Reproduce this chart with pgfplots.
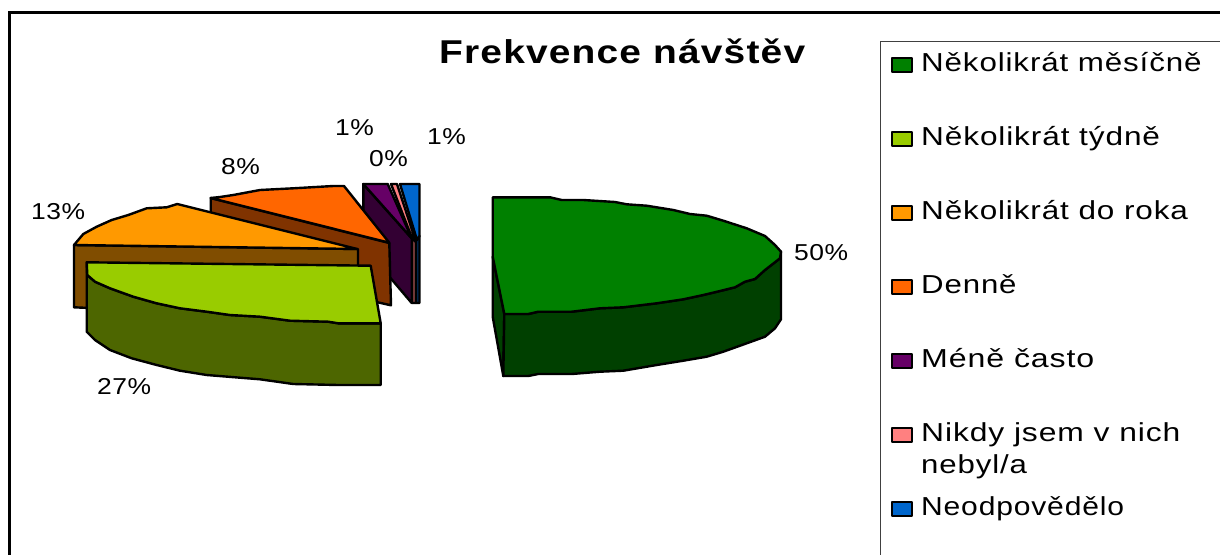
\documentclass[border=0pt]{standalone}
\usepackage{pgfplots}
\pgfplotsset{compat=1.18}
\usepackage{fontspec}
\setmainfont{Liberation Sans}
\definecolor{gT}{HTML}{008000}\definecolor{gS}{HTML}{004000}
\definecolor{lT}{HTML}{99CC00}\definecolor{lS}{HTML}{4D6600}
\definecolor{oT}{HTML}{FF9900}\definecolor{oS}{HTML}{804D00}
\definecolor{dT}{HTML}{FF6600}\definecolor{dS}{HTML}{803300}
\definecolor{pT}{HTML}{660066}\definecolor{pS}{HTML}{330033}
\definecolor{rT}{HTML}{FF8080}\definecolor{rS}{HTML}{804040}
\definecolor{bT}{HTML}{0066CC}\definecolor{bS}{HTML}{003366}
\newcommand{\lgd}[3][1.2]{\node[anchor=base west,inner sep=0pt,font=\fontsize{26}{30}\selectfont] at (axis cs:921,#2) {\scalebox{#1}[1]{\addfontfeature{LetterSpace=2.8}#3}};}
\newcommand{\pc}[3]{\node[anchor=base west,inner sep=0pt,font=\fontsize{23}{28}\selectfont] at (axis cs:#1,#2) {\scalebox{1.15}[1]{\addfontfeature{LetterSpace=2}#3}};}
\begin{document}
\begin{tikzpicture}
\path[use as bounding box] (0,0) rectangle (1220pt,554pt);
\begin{axis}[
  scale only axis, width=1220pt, height=554pt,
  xmin=0, xmax=1220, ymin=0, ymax=554, y dir=reverse,
  hide axis, clip=true,
  every axis plot/.append style={draw=black, line width=2.4pt, line join=round},
]
% frame
\addplot[draw=black, line width=3pt, line join=miter] coordinates {(9.5,560) (9.5,12) (1230,12)};
\addplot[draw=black!75, line width=1pt, line join=miter] coordinates {(880.5,560) (880.5,41.5) (1230,41.5)};
% Neodpovedelo
\addplot[fill=bS] coordinates {(416,240) (419.5,236) (419.5,303) (416,303)} -- cycle;
\addplot[fill=bT] coordinates {(400,184) (419.5,184) (419.5,236) (417,240)} -- cycle;
% Nikdy
\addplot[fill=rS] coordinates {(412,238) (416,242) (416,303) (412,303)} -- cycle;
\addplot[fill=rT] coordinates {(391,184) (397,184) (416,242) (412,238)} -- cycle;
% Mene casto
\addplot[fill=pS] coordinates {(363.3,184) (411.7,238.3) (411.7,303) (363.3,246)} -- cycle;
\addplot[fill=pT] coordinates {(363.3,184) (387.7,184) (411.7,238.3)} -- cycle;
% Denne
\addplot[fill=dS] coordinates {(210.7,198) (389.3,243) (391,305.3) (210.7,265)} -- cycle;
\addplot[fill=dT] coordinates {(210.7,198) (220,197) (233.3,195) (260,190) (293.3,188.3) (333.3,186) (344,186) (389.3,242.7)} -- cycle;
% Nekolikrat do roka
\addplot[fill=oS] coordinates {(74,245) (358,249) (358,320) (74,307.3)} -- cycle;
\addplot[fill=oT] coordinates {(74,245) (83.3,234) (96.7,226.7) (111.7,220) (128.3,215) (146.7,208.3) (166.7,207.3) (177.3,204) (357.3,249)} -- cycle;
% Nekolikrat tydne
\addplot[fill=lS] coordinates {(86.7,262.3) (87.3,275) (95,281.7) (110,288.3) (133.3,296.7) (156.7,303.3) (180,308.3) (206.7,311.7) (230,315) (260,316.7) (290,320.7) (328.3,321.7) (338.3,323.3) (380.7,323.3) (380.7,385) (338.3,385) (293.3,384) (260,379.3) (206.7,375) (180,370.7) (156.7,365) (131.7,358.3) (110,350) (95,340) (86.7,331.7)} -- cycle;
\addplot[fill=lT] coordinates {(86.7,262.3) (370.7,265.7) (380.7,323.3) (338.3,323.3) (328.3,321.7) (290,320.7) (260,316.7) (230,315) (206.7,311.7) (180,308.3) (156.7,303.3) (133.3,296.7) (110,288.3) (95,281.7) (87.3,275)} -- cycle;
% Nekolikrat mesicne
\addplot[fill=gS] coordinates {(492.7,256.7) (492.7,316.7) (503.3,376) (504.3,314)} -- cycle;
\addplot[fill=gS] coordinates {(504.3,314) (528.3,314) (538.3,311.7) (571.7,311.7) (600,308.3) (623.3,307.3) (656.7,303.3) (683.3,299.3) (703.3,295) (720,291) (735,287.3) (745,281.7) (755,279) (765,270) (780,258.3) (781,251.7) (781,319.3) (775,328.3) (765,336.7) (746.7,343.3) (723.3,351.7) (706.7,356.7) (683.3,360.7) (656.7,365) (623.3,370.7) (600,371.7) (571.7,374) (538.3,374) (528.3,376) (503.3,376)} -- cycle;
\addplot[fill=gT] coordinates {(492.7,197.3) (550,197.3) (561.7,200) (583.3,200) (615,202) (626.7,204.3) (646.7,205.7) (673.3,210) (690,214) (706.7,215.7) (723.3,220.7) (746.7,228.3) (765,236) (775,245) (781,251.7) (780,258.3) (765,270) (755,279) (745,281.7) (735,287.3) (720,291) (703.3,295) (683.3,299.3) (656.7,303.3) (623.3,307.3) (600,308.3) (571.7,311.7) (538.3,311.7) (528.3,314) (504.3,314) (492.7,256.7)} -- cycle;
% legend swatches
\addplot[fill=gT,line width=1.5pt] coordinates {(892,58) (912,58) (912,72) (892,72)} -- cycle;
\addplot[fill=lT,line width=1.5pt] coordinates {(892,132) (912,132) (912,146) (892,146)} -- cycle;
\addplot[fill=oT,line width=1.5pt] coordinates {(892,206) (912,206) (912,220) (892,220)} -- cycle;
\addplot[fill=dT,line width=1.5pt] coordinates {(892,280) (912,280) (912,294) (892,294)} -- cycle;
\addplot[fill=pT,line width=1.5pt] coordinates {(892,354) (912,354) (912,368) (892,368)} -- cycle;
\addplot[fill=rT,line width=1.5pt] coordinates {(892,428) (912,428) (912,442) (892,442)} -- cycle;
\addplot[fill=bT,line width=1.5pt] coordinates {(892,502) (912,502) (912,516) (892,516)} -- cycle;
% texts
\lgd[1.205]{71}{Několikrát měsíčně}
\lgd[1.215]{145}{Několikrát týdně}
\lgd[1.21]{219}{Několikrát do roka}
\lgd{293}{Denně}
\lgd[1.235]{367}{Méně často}
\lgd[1.224]{441}{Nikdy jsem v nich}
\lgd{473}{nebyl/a}
\lgd[1.155]{515}{Neodpovědělo}
\pc{794}{260}{50\%}
\pc{97}{394}{27\%}
\pc{31}{219}{13\%}
\pc{221}{174}{8\%}
\pc{335}{135}{1\%}
\pc{369}{166}{0\%}
\pc{427}{144}{1\%}
\node[anchor=base west,inner sep=0pt,font=\fontsize{33}{36}\bfseries\selectfont] at (axis cs:439,63) {\scalebox{1.18}[1]{\addfontfeature{LetterSpace=3}Frekvence návštěv}};
\end{axis}
\end{tikzpicture}
\end{document}
